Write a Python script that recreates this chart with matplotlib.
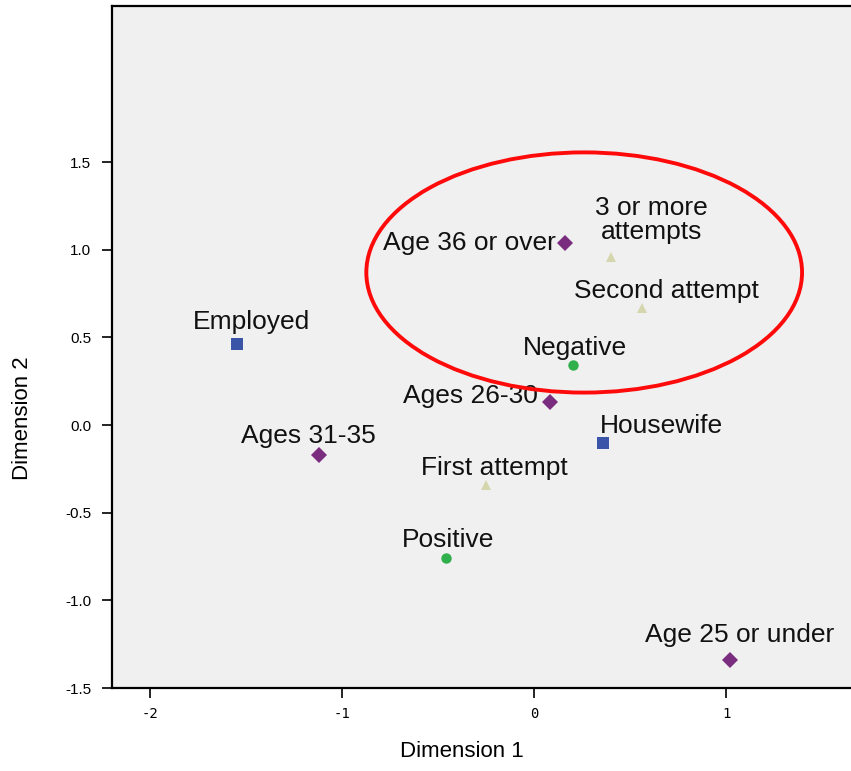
"""
Correspondence map: Dimension 1 vs Dimension 2 with category points.
"""
import matplotlib
matplotlib.use("Agg")
import matplotlib.pyplot as plt
from matplotlib.patches import Ellipse

plt.rcParams['font.family'] = ['Liberation Sans', 'DejaVu Sans']

# category points
labels = ["Employed", "Housewife",
          "Age 25 or under", "Ages 26-30", "Ages 31-35", "Age 36 or over",
          "First attempt", "Second attempt", "3 or more\nattempts",
          "Positive", "Negative"]
dim1 = [-1.55, 0.36, 1.02, 0.08, -1.12, 0.16, -0.25, 0.56, 0.40, -0.46, 0.20]
dim2 = [0.46, -0.10, -1.34, 0.13, -0.17, 1.04, -0.34, 0.67, 0.96, -0.76, 0.34]
groups = ["job", "job", "age", "age", "age", "age",
          "try", "try", "try", "res", "res"]

# highlighted cluster
ell_center = (0.26, 0.87)
ell_w, ell_h = 2.27, 1.37

style = {
    "job": dict(marker="s", color="#3a55a8", ms=8.5),
    "age": dict(marker="D", color="#7a2c7e", ms=8),
    "try": dict(marker="^", color="#d6d6ae", ms=7.5),
    "res": dict(marker="o", color="#2fb04c", ms=7.5),
}

# label placement in pixels relative to the point: (dx, dy, ha)
offsets = {
    "Employed": (15, 22, "center"),
    "Housewife": (-4, 17, "left"),
    "Age 25 or under": (10, 25, "center"),
    "Ages 26-30": (-12, 6, "right"),
    "Ages 31-35": (-11, 19, "center"),
    "Age 36 or over": (-9, 0, "right"),
    "First attempt": (8, 17, "center"),
    "Second attempt": (25, 17, "center"),
    "3 or more\nattempts": (40, 37, "center"),
    "Positive": (2, 18, "center"),
    "Negative": (2, 17, "center"),
}

fig = plt.figure(figsize=(8.51, 7.71), dpi=100)
ax = fig.add_axes([112 / 851, 83 / 771, 1 - 112 / 851, (688 - 6) / 771])
ax.set_facecolor("#f0f0f0")

for x, y, lab, g in zip(dim1, dim2, labels, groups):
    s = style[g]
    ax.plot(x, y, linestyle="none", marker=s["marker"], color=s["color"],
            markersize=s["ms"], markeredgewidth=0, zorder=3)
    dx, dy, ha = offsets[lab]
    ax.annotate(lab, (x, y), xytext=(dx, dy), textcoords="offset pixels",
                ha=ha, va="center", fontsize=19, color="#111111",
                linespacing=1.0, zorder=4)

ax.add_patch(Ellipse(ell_center, ell_w, ell_h, fill=False,
                     edgecolor="#ff0a0a", linewidth=2.8, zorder=5))

ax.set_xlim(-2.2, 1.65)
ax.set_ylim(-1.5, 2.39)
ax.set_xticks([-2, -1, 0, 1])
ax.set_xticklabels(["-2", "-1", "0", "1"], family="DejaVu Sans Mono")
ax.set_yticks([-1.5, -1.0, -0.5, 0.0, 0.5, 1.0, 1.5])
ax.set_yticklabels(["-1.5", "-1.0", "-0.5", "0.0", "0.5", "1.0", "1.5"])
ax.tick_params(axis="both", direction="out", length=7, width=1.2, pad=8)
ax.tick_params(axis="y", labelsize=11)
ax.tick_params(axis="x", labelsize=10, pad=7)

ax.spines["right"].set_visible(False)
for sp in ("left", "bottom", "top"):
    ax.spines[sp].set_linewidth(1.6)

ax.set_xlabel("Dimension 1", fontsize=16)
ax.xaxis.set_label_coords((462 - 112) / 739, (688 - 741) / 682)
ax.set_ylabel("Dimension 2", fontsize=16)
ax.yaxis.set_label_coords((33 - 112) / 739, (688 - 418) / 682)

fig.savefig("out.png", dpi=100)
